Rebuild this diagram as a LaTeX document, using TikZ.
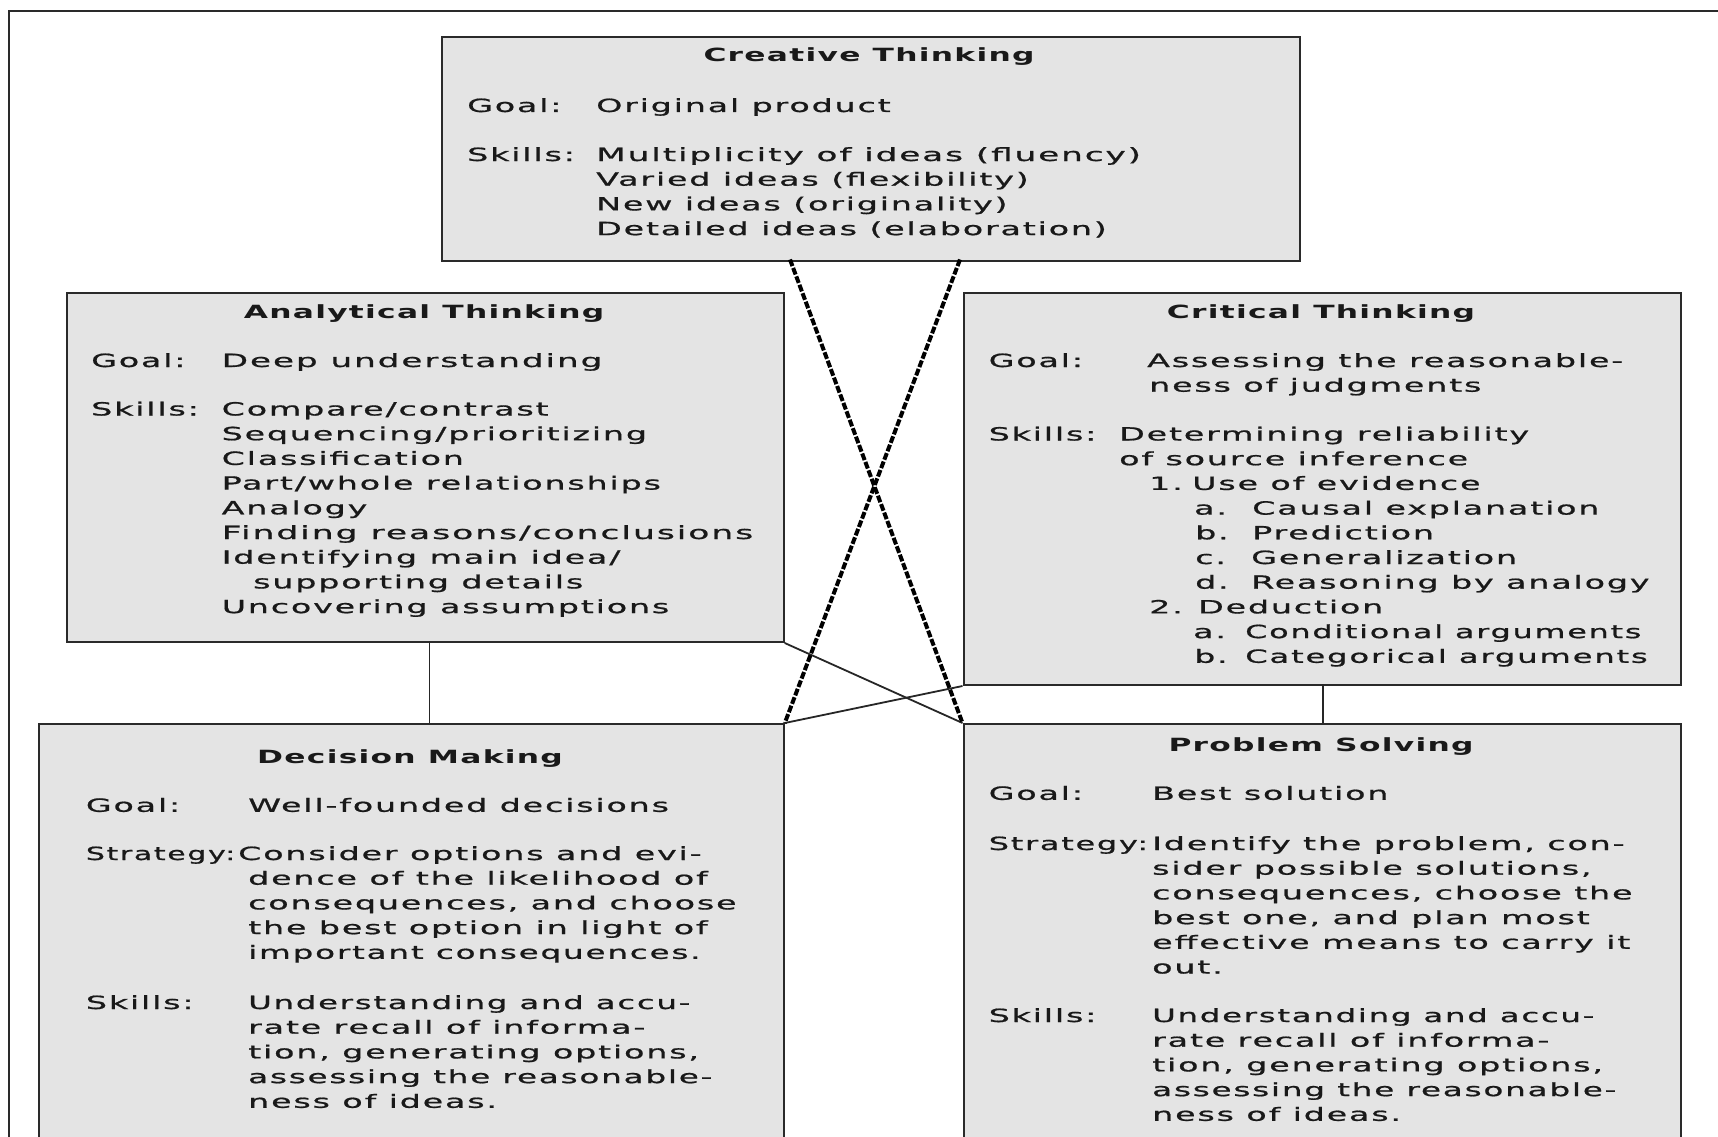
\documentclass[tikz,border=0pt]{standalone}
\usepackage{fontspec}
\setmainfont[FakeStretch=1.83,LetterSpace=10,FakeBold=0.9]{DejaVu Sans}
\newfontfamily\ttlfamily[FakeStretch=1.72,LetterSpace=7]{DejaVu Sans}
\usetikzlibrary{calc}
\definecolor{boxfill}{HTML}{E4E4E4}
\definecolor{boxline}{HTML}{2A2A2A}
\tikzset{
  box/.style={draw=boxline, line width=2pt, fill=boxfill, anchor=north west, inner sep=0pt},
  txt/.style={anchor=base west, inner sep=0pt, font=\fontsize{18.2}{24.7}\selectfont, text=black!90},
  ttl/.style={anchor=base, inner sep=0pt, font=\ttlfamily\bfseries\fontsize{18.2}{24.7}\selectfont, text=black!90},
  conn/.style={draw=black!85, line width=1.8pt},
  dconn/.style={draw=black, line width=4pt, dash pattern=on 7pt off 2pt},
  frame/.style={draw=boxline, line width=2pt}
}
\newcommand\tl[5][1]{\node[txt] (#2) at (#3,#4) {\scalebox{#1}[1]{#5}};}
\begin{document}
\begin{tikzpicture}[x=1pt,y=-1pt]
\useasboundingbox (0,0) rectangle (1718,1137);
\draw[frame] (9,1145) -- (9,11) -- (1725,11);
% boxes
\node[box, minimum width=858pt, minimum height=223.5pt] (ct) at (440.5,36) {};
\node[box, minimum width=717pt, minimum height=349.5pt] (at) at (65.7,291.5) {};
\node[box, minimum width=717.5pt, minimum height=392.5pt] (cr) at (962.5,291.5) {};
\node[box, minimum width=744.5pt, minimum height=430pt] (dm) at (38.3,723) {};
\node[box, minimum width=717.5pt, minimum height=430pt] (ps) at (962.5,723) {};
% connectors
\coordinate (c1) at (790,259.5);
\coordinate (c2) at (960,259.5);
\coordinate (atb) at (429.5,641);
\coordinate (crb) at (1323,684);
\draw[conn] (atb) -- (atb |- dm.north);
\draw[conn] (crb) -- (crb |- ps.north);
\draw[conn] (at.south east) -- (ps.north west);
\draw[conn] (cr.south west) -- (dm.north east);
\draw[dconn] (c1) -- (ps.north west);
\draw[dconn] (c2) -- (dm.north east);
% Creative Thinking
\node[ttl] (ctT) at (869,62) {Creative Thinking};
\tl{ctG}{467}{112}{Goal:}
\tl{ctGv}{596}{112}{Original product}
\tl{ctS}{467}{161}{Skills:}
\tl[1.03]{ctS1}{596}{161}{Multiplicity of ideas (fluency)}
\tl{ctS2}{596}{185.7}{Varied ideas (flexibility)}
\tl{ctS3}{596}{210.4}{New ideas (originality)}
\tl{ctS4}{596}{235.1}{Detailed ideas (elaboration)}
% Analytical Thinking
\node[ttl] (atT) at (424,318.5) {Analytical Thinking};
\tl{atG}{91}{367}{Goal:}
\tl[1.03]{atGv}{221.5}{367}{Deep understanding}
\tl{atS}{91}{415.5}{Skills:}
\tl{atS1}{221.5}{415.5}{Compare/contrast}
\tl{atS2}{221.5}{440.2}{Sequencing/prioritizing}
\tl{atS3}{221.5}{464.9}{Classification}
\tl{atS4}{221.5}{489.6}{Part/whole relationships}
\tl{atS5}{221.5}{514.3}{Analogy}
\tl[1.04]{atS6}{221.5}{539}{Finding reasons/conclusions}
\tl{atS7}{221.5}{563.7}{Identifying main idea/}
\tl{atS8}{253}{588.4}{supporting details}
\tl{atS9}{221.5}{613.1}{Uncovering assumptions}
% Critical Thinking
\node[ttl] (crT) at (1321,318.5) {Critical Thinking};
\tl{crG}{988.5}{367}{Goal:}
\tl{crGv}{1147}{367}{Assessing the reasonable-}
\tl{crGw}{1149}{391.7}{ness of judgments}
\tl{crS}{988.5}{440.5}{Skills:}
\tl{crS1}{1119}{440.5}{Determining reliability}
\tl{crS2}{1119}{465.2}{of source inference}
\tl{crN1}{1149}{489.9}{1.}
\tl{crN1t}{1192}{489.9}{Use of evidence}
\tl{crA1}{1194}{514.6}{a.}
\tl{crA1t}{1252}{514.6}{Causal explanation}
\tl{crB1}{1195}{539.3}{b.}
\tl{crB1t}{1252}{539.3}{Prediction}
\tl{crC1}{1195}{564}{c.}
\tl{crC1t}{1251}{564}{Generalization}
\tl{crD1}{1195}{588.7}{d.}
\tl{crD1t}{1251}{588.7}{Reasoning by analogy}
\tl{crN2}{1149}{613.4}{2.}
\tl{crN2t}{1198}{613.4}{Deduction}
\tl{crA2}{1193}{638.1}{a.}
\tl[0.957]{crA2t}{1245}{638.1}{Conditional arguments}
\tl{crB2}{1194}{662.8}{b.}
\tl[0.97]{crB2t}{1245}{662.8}{Categorical arguments}
% Decision Making
\node[ttl] (dmT) at (410,763.5) {Decision Making};
\tl{dmG}{85.7}{811.8}{Goal:}
\tl{dmGv}{248}{811.8}{Well-founded decisions}
\tl[0.9]{dmSt}{85.7}{860}{Strategy:}
\tl{dmSt1}{238}{860}{Consider options and evi-}
\tl{dmSt2}{248}{884.7}{dence of the likelihood of}
\tl{dmSt3}{248}{909.4}{consequences, and choose}
\tl{dmSt4}{248}{934.1}{the best option in light of}
\tl[0.98]{dmSt5}{248}{958.8}{important consequences.}
\tl{dmS}{85.7}{1009}{Skills:}
\tl[0.97]{dmS1}{248}{1009}{Understanding and accu-}
\tl{dmS2}{248}{1033.7}{rate recall of informa-}
\tl{dmS3}{248}{1058.4}{tion, generating options,}
\tl[0.98]{dmS4}{248}{1083.1}{assessing the reasonable-}
\tl{dmS5}{248}{1107.8}{ness of ideas.}
% Problem Solving
\node[ttl] (psT) at (1321,751.5) {Problem Solving};
\tl{psG}{988.5}{799.8}{Goal:}
\tl{psGv}{1152}{799.8}{Best solution}
\tl[0.96]{psSt}{988.5}{850}{Strategy:}
\tl{psSt1}{1152}{850}{Identify the problem, con-}
\tl{psSt2}{1152}{874.7}{sider possible solutions,}
\tl{psSt3}{1152}{899.4}{consequences, choose the}
\tl{psSt4}{1152}{924.1}{best one, and plan most}
\tl{psSt5}{1152}{948.8}{effective means to carry it}
\tl{psSt6}{1152}{973.5}{out.}
\tl{psS}{988.5}{1022}{Skills:}
\tl[0.97]{psS1}{1152}{1022}{Understanding and accu-}
\tl{psS2}{1152}{1046.7}{rate recall of informa-}
\tl{psS3}{1152}{1071.4}{tion, generating options,}
\tl[0.98]{psS4}{1152}{1096.1}{assessing the reasonable-}
\tl{psS5}{1152}{1120.8}{ness of ideas.}
\end{tikzpicture}
\end{document}
